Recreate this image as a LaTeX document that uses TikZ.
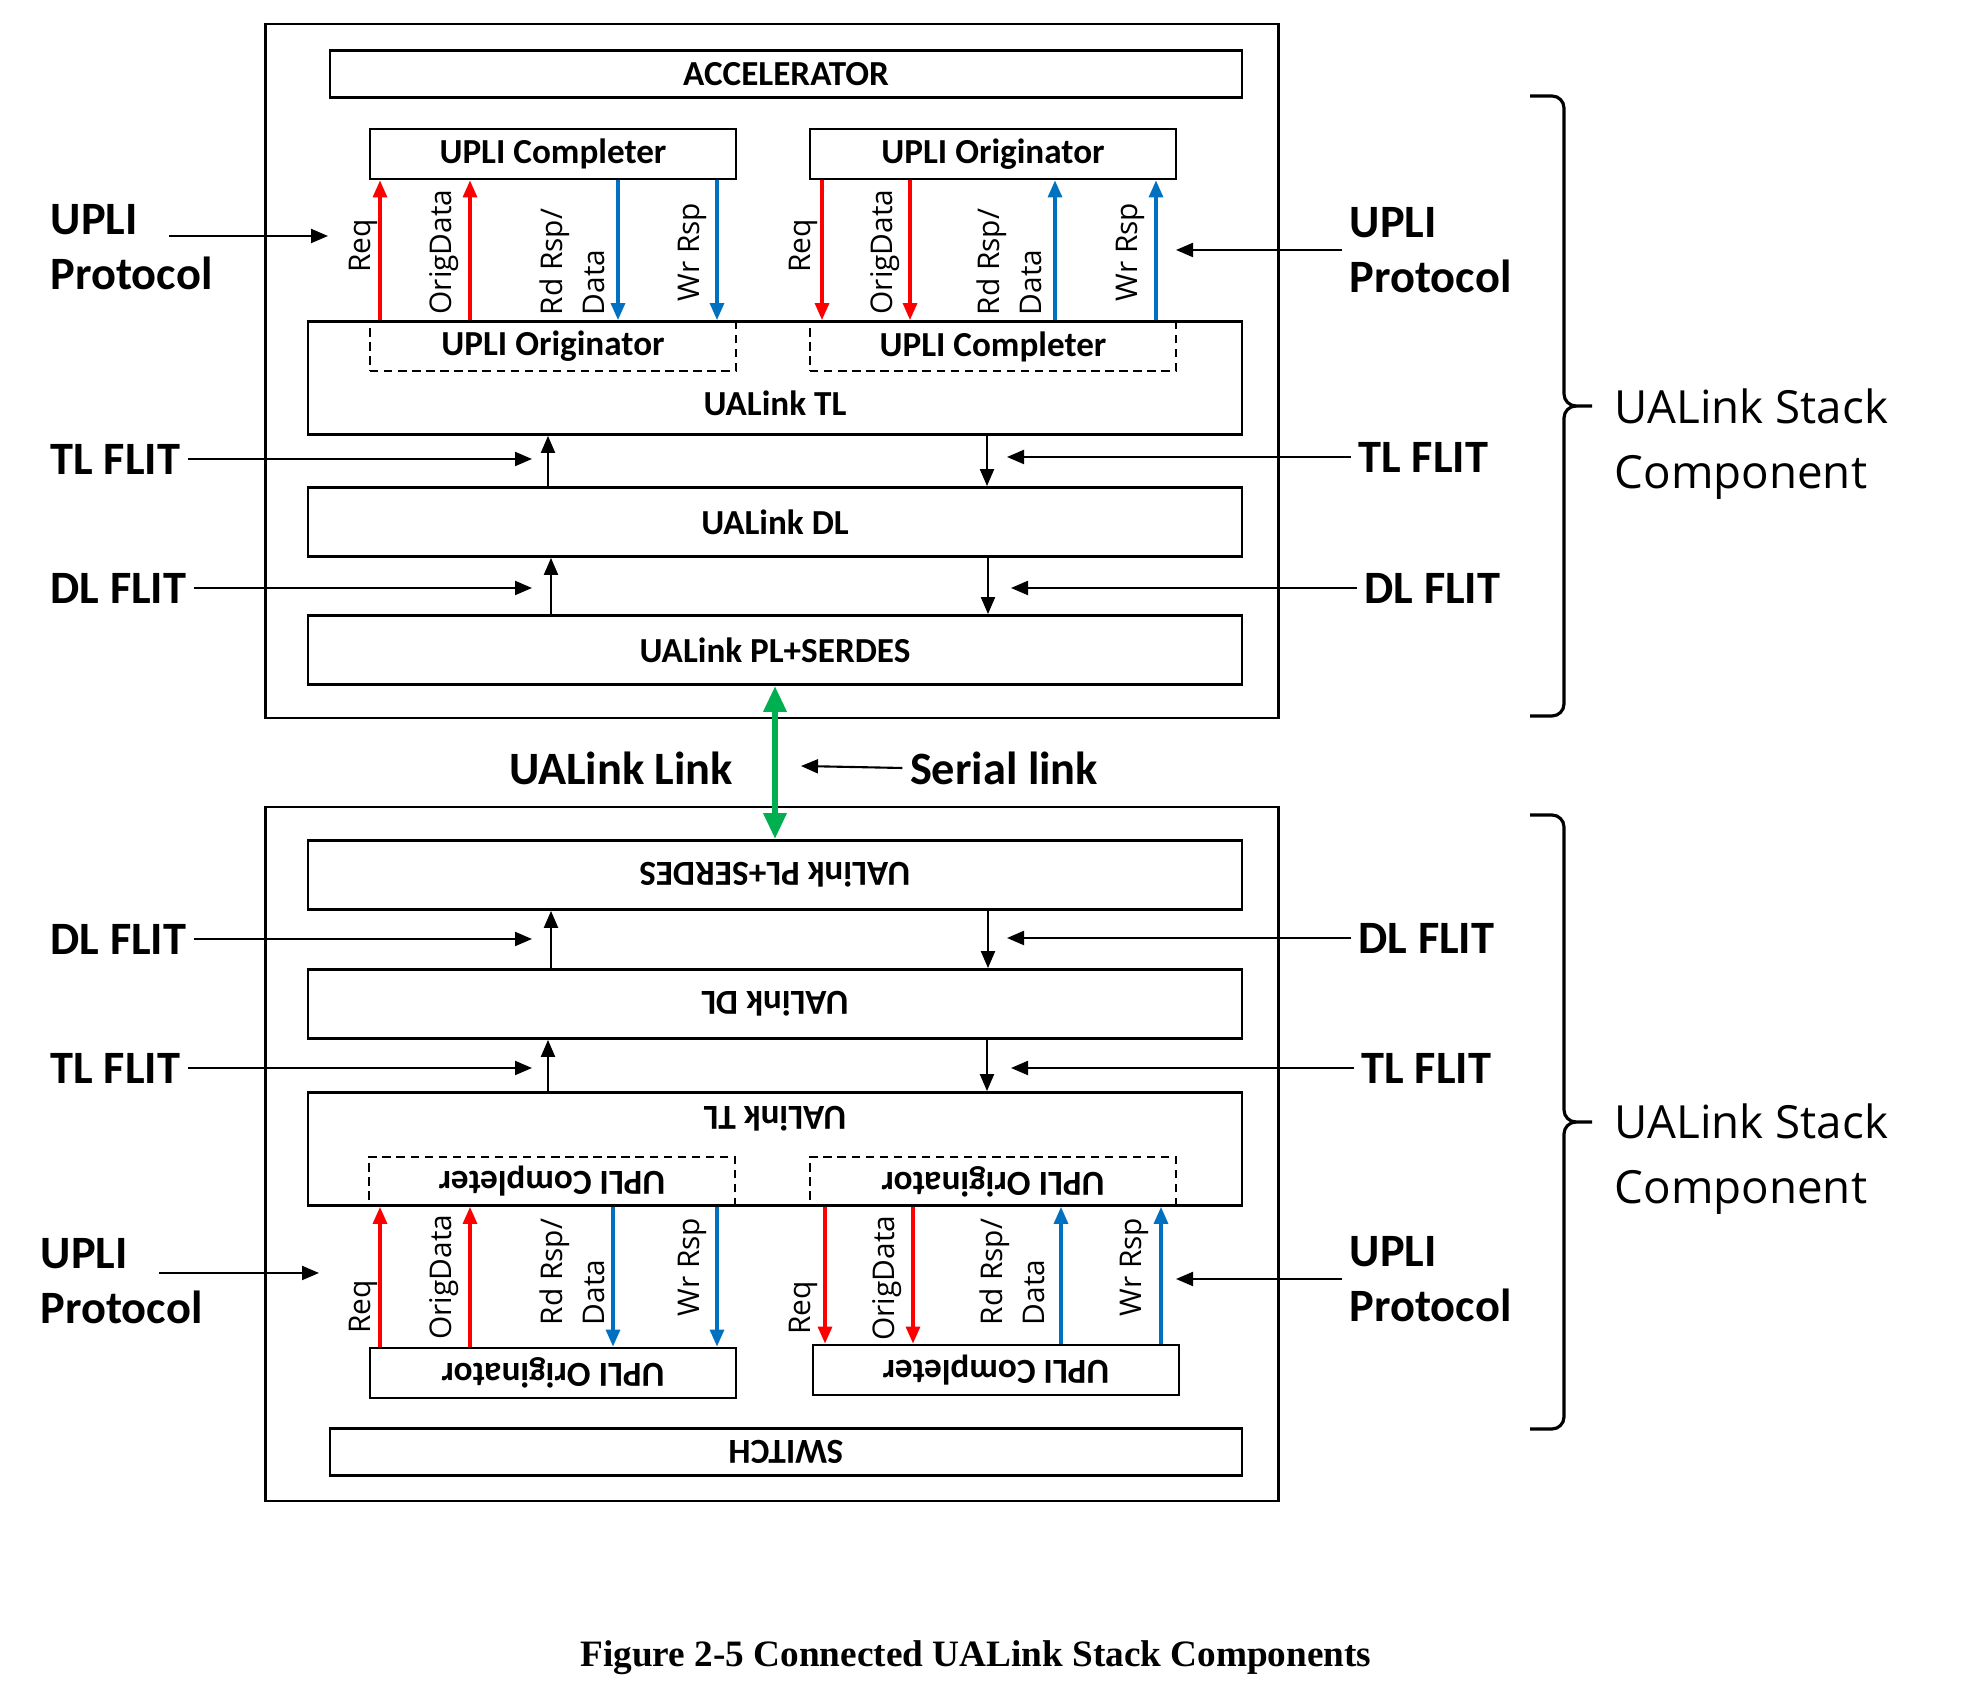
\documentclass[tikz,border=0pt]{standalone}
\usepackage{fontspec}
\setmainfont{Carlito}
\newfontfamily\sigfont{Open Sans}
\newfontfamily\capfont{Liberation Serif}
\usepackage{tikz}
\usetikzlibrary{arrows.meta}

\definecolor{reqred}{RGB}{255,0,0}
\definecolor{rspblue}{RGB}{0,112,192}
\definecolor{linkgreen}{RGB}{0,176,80}

\newcommand{\flip}[1]{\rotatebox[origin=c]{180}{#1}}
\newcommand{\rdrsp}{Rd Rsp/\\Data}

\begin{document}
\begin{tikzpicture}[
    every node/.style={inner sep=2pt},
    outer/.style={draw, line width=0.8pt, minimum width=10.13cm, minimum height=6.94cm, inner sep=0pt},
    box/.style={draw, line width=0.8pt, inner sep=0pt, font=\fontsize{10}{12}\selectfont\bfseries},
    host/.style={box, minimum width=9.12cm, minimum height=0.47cm},
    layer/.style={box, minimum width=9.34cm, minimum height=0.69cm},
    upli/.style={box, minimum width=3.66cm, minimum height=0.5cm},
    dupli/.style={upli, minimum height=0.49cm, dash pattern=on 2.4pt off 1.6pt},
    boxtext/.style={font=\fontsize{10}{12}\selectfont\bfseries},
    side/.style={font=\fontsize{13.2}{15.7}\selectfont\bfseries, align=left},
    sig/.style={font=\fontsize{8.5}{12}\selectfont\sigfont, rotate=90, align=left, inner sep=0pt},
    stacklbl/.style={font=\fontsize{13}{18.5}\selectfont\sigfont, align=left},
    arr/.style={-{Triangle[length=1.7mm,width=1.4mm]}, line width=0.6pt},
    reqarr/.style={arr, draw=reqred, line width=0.9pt},
    rsparr/.style={arr, draw=rspblue, line width=0.9pt},
    linkarr/.style={{Triangle[length=2.6mm,width=2.2mm]}-{Triangle[length=2.6mm,width=2.2mm]}, draw=linkgreen, line width=1.8pt},
    bracket/.style={line width=0.9pt}
  ]
    \useasboundingbox (0,0) rectangle (19.62,16.94);

    % Upper stack
    \node[outer] (stackA) at (7.72,13.23) {};
    \node[host] (accel) at (7.86,16.20) {ACCELERATOR};
    \node[upli] (cmpA) at (5.53,15.40) {UPLI Completer};
    \node[upli] (orgA) at (9.93,15.40) {UPLI Originator};
    \node[layer, minimum height=1.13cm] (tlA) at (7.75,13.16) {};
    \node[dupli] (dorgA) at (5.53,13.475) {UPLI Originator};
    \node[dupli] (dcmpA) at (9.93,13.475) {UPLI Completer};
    \node[boxtext] (tlAtxt) at (7.75,12.91) {UALink TL};
    \node[layer] (dlA) at (7.75,11.72) {UALink DL};
    \node[layer] (plA) at (7.75,10.44) {UALink PL+SERDES};

    % Lower stack
    \node[outer] (stackB) at (7.72,5.40) {};
    \node[layer] (plB) at (7.75,8.19) {\flip{UALink PL+SERDES}};
    \node[layer] (dlB) at (7.75,6.90) {\flip{UALink DL}};
    \node[layer, minimum height=1.13cm] (tlB) at (7.75,5.45) {};
    \node[boxtext] (tlBtxt) at (7.75,5.75) {\flip{UALink TL}};
    \node[dupli] (dcmpB) at (5.52,5.125) {\flip{UPLI Completer}};
    \node[dupli] (dorgB) at (9.93,5.125) {\flip{UPLI Originator}};
    \node[upli] (orgB) at (5.53,3.21) {\flip{UPLI Originator}};
    \node[upli] (cmpB) at (9.96,3.24) {\flip{UPLI Completer}};
    \node[host] (switch) at (7.86,2.42) {\flip{SWITCH}};

    % UPLI channels
    \foreach \x in {3.80,4.70} \draw[reqarr] (\x,0 |- tlA.north) -- (\x,0 |- cmpA.south);
    \foreach \x in {6.18,7.17} \draw[rsparr] (\x,0 |- cmpA.south) -- (\x,0 |- tlA.north);
    \foreach \x in {8.22,9.10} \draw[reqarr] (\x,0 |- orgA.south) -- (\x,0 |- tlA.north);
    \foreach \x in {10.55,11.56} \draw[rsparr] (\x,0 |- tlA.north) -- (\x,0 |- orgA.south);
    \foreach \x in {3.80,4.70} \draw[reqarr] (\x,0 |- orgB.north) -- (\x,0 |- tlB.south);
    \foreach \x in {6.13,7.17} \draw[rsparr] (\x,0 |- tlB.south) -- (\x,0 |- orgB.north);
    \foreach \x in {8.25,9.13} \draw[reqarr] (\x,0 |- tlB.south) -- (\x,0 |- cmpB.north);
    \foreach \x in {10.61,11.61} \draw[rsparr] (\x,0 |- cmpB.north) -- (\x,0 |- tlB.south);

    \node[sig] (reqA1) at (3.63,14.48) {Req};
    \node[sig] (odA1) at (4.44,14.42) {OrigData};
    \node[sig] (rdA1) at (5.72,14.32) {\rdrsp};
    \node[sig] (wrA1) at (6.92,14.42) {Wr Rsp};
    \node[sig] (reqA2) at (8.03,14.48) {Req};
    \node[sig] (odA2) at (8.85,14.42) {OrigData};
    \node[sig] (rdA2) at (10.09,14.32) {\rdrsp};
    \node[sig] (wrA2) at (11.30,14.42) {Wr Rsp};
    \node[sig] (reqB1) at (3.63,3.87) {Req};
    \node[sig] (odB1) at (4.44,4.17) {OrigData};
    \node[sig] (rdB1) at (5.72,4.22) {\rdrsp};
    \node[sig] (wrB1) at (6.92,4.27) {Wr Rsp};
    \node[sig] (reqB2) at (8.03,3.86) {Req};
    \node[sig] (odB2) at (8.87,4.16) {OrigData};
    \node[sig] (rdB2) at (10.12,4.22) {\rdrsp};
    \node[sig] (wrB2) at (11.34,4.27) {Wr Rsp};

    % Layer arrows
    \draw[arr] (5.48,0 |- dlA.north) -- (5.48,0 |- tlA.south);
    \draw[arr] (9.87,0 |- tlA.south) -- (9.87,0 |- dlA.north);
    \draw[arr] (5.51,0 |- plA.north) -- (5.51,0 |- dlA.south);
    \draw[arr] (9.88,0 |- dlA.south) -- (9.88,0 |- plA.north);
    \draw[arr] (5.51,0 |- dlB.north) -- (5.51,0 |- plB.south);
    \draw[arr] (9.88,0 |- plB.south) -- (9.88,0 |- dlB.north);
    \draw[arr] (5.48,0 |- tlB.north) -- (5.48,0 |- dlB.south);
    \draw[arr] (9.87,0 |- dlB.south) -- (9.87,0 |- tlB.north);

    % Side labels, upper
    \node[side, anchor=west] (upliLA) at (0.43,14.47) {UPLI\\Protocol};
    \coordinate (upliLAs) at (1.69,14.58);
    \coordinate (upliLAe) at (3.28,14.58);
    \draw[arr] (upliLAs) -- (upliLAe);
    \node[side, anchor=west] (upliRA) at (13.42,14.44) {UPLI\\Protocol};
    \coordinate (upliRAe) at (11.76,14.44);
    \draw[arr] (upliRA.west) -- (upliRAe);
    \node[side, anchor=west] (tlfLA) at (0.43,12.35) {TL FLIT};
    \coordinate (tlfLAe) at (5.32,12.35);
    \draw[arr] (tlfLA.east) -- (tlfLAe);
    \node[side, anchor=west] (tlfRA) at (13.51,12.37) {TL FLIT};
    \coordinate (tlfRAe) at (10.07,12.37);
    \draw[arr] (tlfRA.west) -- (tlfRAe);
    \node[side, anchor=west] (dlfLA) at (0.43,11.06) {DL FLIT};
    \coordinate (dlfLAe) at (5.32,11.06);
    \draw[arr] (dlfLA.east) -- (dlfLAe);
    \node[side, anchor=west] (dlfRA) at (13.57,11.06) {DL FLIT};
    \coordinate (dlfRAe) at (10.11,11.06);
    \draw[arr] (dlfRA.west) -- (dlfRAe);

    % Side labels, lower
    \node[side, anchor=west] (dlfLB) at (0.43,7.55) {DL FLIT};
    \coordinate (dlfLBe) at (5.32,7.55);
    \draw[arr] (dlfLB.east) -- (dlfLBe);
    \node[side, anchor=west] (dlfRB) at (13.51,7.56) {DL FLIT};
    \coordinate (dlfRBe) at (10.07,7.56);
    \draw[arr] (dlfRB.west) -- (dlfRBe);
    \node[side, anchor=west] (tlfLB) at (0.43,6.26) {TL FLIT};
    \coordinate (tlfLBe) at (5.32,6.26);
    \draw[arr] (tlfLB.east) -- (tlfLBe);
    \node[side, anchor=west] (tlfRB) at (13.54,6.26) {TL FLIT};
    \coordinate (tlfRBe) at (10.11,6.26);
    \draw[arr] (tlfRB.west) -- (tlfRBe);
    \node[side, anchor=west] (upliLB) at (0.33,4.13) {UPLI\\Protocol};
    \coordinate (upliLBs) at (1.59,4.21);
    \coordinate (upliLBe) at (3.19,4.21);
    \draw[arr] (upliLBs) -- (upliLBe);
    \node[side, anchor=west] (upliRB) at (13.42,4.15) {UPLI\\Protocol};
    \coordinate (upliRBe) at (11.76,4.15);
    \draw[arr] (upliRB.west) -- (upliRBe);

    % Serial link
    \draw[linkarr] (plA.south) -- (plB.north);
    \node[side] (ualink) at (6.21,9.26) {UALink Link};
    \node[side] (serial) at (10.04,9.26) {Serial link};
    \coordinate (serialTip) at (8.01,9.28);
    \draw[arr] (serial.west) -- (serialTip);

    % Braces
    \draw[bracket] (15.30,15.98) -- (15.52,15.98) to[out=0,in=90] (15.64,15.86) -- (15.64,13.00)
        to[out=-90,in=180] (15.76,12.88) -- (15.92,12.88);
    \draw[bracket] (15.76,12.88) to[out=180,in=90] (15.64,12.76) -- (15.64,9.90)
        to[out=-90,in=0] (15.52,9.78) -- (15.30,9.78);
    \draw[bracket] (15.30,8.79) -- (15.52,8.79) to[out=0,in=90] (15.64,8.67) -- (15.64,5.84)
        to[out=-90,in=180] (15.76,5.72) -- (15.92,5.72);
    \draw[bracket] (15.76,5.72) to[out=180,in=90] (15.64,5.60) -- (15.64,2.77)
        to[out=-90,in=0] (15.52,2.65) -- (15.30,2.65);
    \node[stacklbl, anchor=west] (stackAlbl) at (16.07,12.50) {UALink Stack\\Component};
    \node[stacklbl, anchor=west] (stackBlbl) at (16.07,5.35) {UALink Stack\\Component};

    % Caption
    \node[font=\fontsize{10.6}{13}\selectfont\capfont\bfseries] (caption) at (9.76,0.36) {Figure 2-5 Connected UALink Stack Components};
\end{tikzpicture}
\end{document}
